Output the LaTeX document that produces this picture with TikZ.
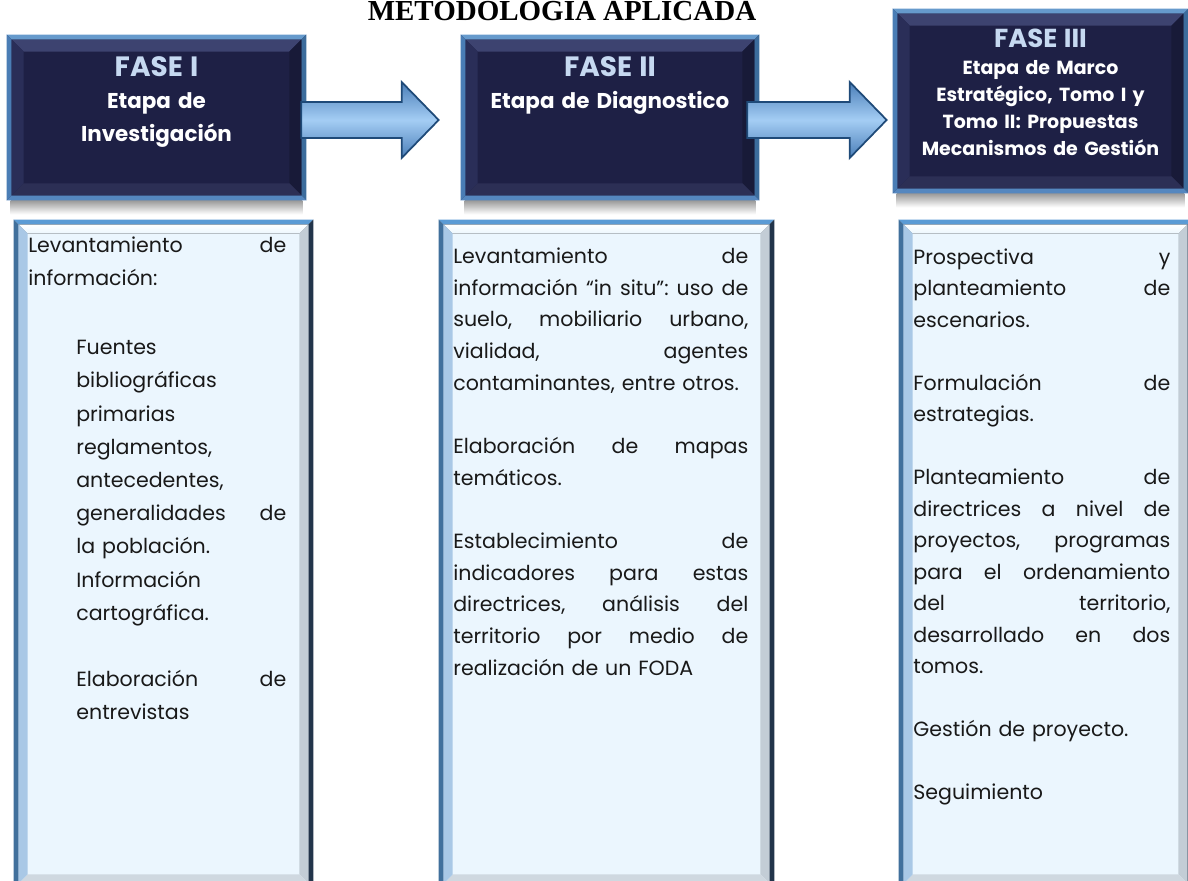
\documentclass[tikz,border=0pt]{standalone}
\usepackage{fontspec}
\setmainfont{Poppins}
\newfontfamily\titlefont{Liberation Serif}
\usepackage{tikz}
\usetikzlibrary{calc, positioning}

\definecolor{fasenavy}{HTML}{1E2045}
\definecolor{faseblue}{HTML}{C6D9F1}
\definecolor{detfill}{HTML}{EBF6FE}
\definecolor{arrowdark}{HTML}{4A7EB8}
\definecolor{arrowlight}{HTML}{A4CDF4}
\definecolor{arrowline}{HTML}{1F4A78}
% bevel colours of the phase boxes
\definecolor{fotop}{HTML}{669ACC}
\definecolor{foright}{HTML}{3C6C9C}
\definecolor{fobottom}{HTML}{5587BF}
\definecolor{foleft}{HTML}{4A7DB5}
\definecolor{fitop}{HTML}{3D4370}
\definecolor{firight}{HTML}{181A38}
\definecolor{fibottom}{HTML}{2C2F55}
\definecolor{fileft}{HTML}{2A2E58}
% bevel colours of the detail boxes
\definecolor{dotop}{HTML}{5B9BD5}
\definecolor{doright}{HTML}{22344A}
\definecolor{dobottom}{HTML}{8D99A5}
\definecolor{doleft}{HTML}{41709C}
\definecolor{diright}{HTML}{C3CDD6}
\definecolor{dibottom}{HTML}{CFD8E0}
\definecolor{dileft}{HTML}{A9C8E6}

\newdimen\px
\px=0.02cm

% bevel: node, inset, band, top, right, bottom, left
\newcommand\bevel[7]{%
  \coordinate (bnw) at ($(#1.north west)+(#2,#2)$);
  \coordinate (bne) at ($(#1.north east)+(-#2,#2)$);
  \coordinate (bse) at ($(#1.south east)+(-#2,-#2)$);
  \coordinate (bsw) at ($(#1.south west)+(#2,-#2)$);
  \fill[#4] (bnw) -- (bne) -- ($(bne)+(-#3,#3)$) -- ($(bnw)+(#3,#3)$) -- cycle;
  \fill[#5] (bne) -- (bse) -- ($(bse)+(-#3,-#3)$) -- ($(bne)+(-#3,#3)$) -- cycle;
  \fill[#6] (bse) -- (bsw) -- ($(bsw)+(#3,-#3)$) -- ($(bse)+(-#3,-#3)$) -- cycle;
  \fill[#7] (bsw) -- (bnw) -- ($(bnw)+(#3,#3)$) -- ($(bsw)+(#3,-#3)$) -- cycle;
}
\newcommand\blockarrow[2]{%
  \draw[phasearrow] ($(#1)+(0,-18)$) -- ($(#2)+(-37,-18)$) -- ($(#2)+(-37,-38)$)
    -- (#2) -- ($(#2)+(-37,38)$) -- ($(#2)+(-37,18)$) -- ($(#1)+(0,18)$) -- cycle;
}
\newcommand\ind{\hspace*{48\px}}

\newcommand\fasefont{\fontsize{15.9pt}{18pt}\selectfont\bfseries}
\newcommand\subfont{\fontsize{12.2pt}{18.49pt}\selectfont\bfseries}
\newcommand\fasefontc{\fontsize{14.8pt}{17pt}\selectfont\bfseries}
\newcommand\subfontc{\fontsize{10.8pt}{15.36pt}\selectfont\bfseries}

\tikzset{
  phasearrow/.style={draw=arrowline, line width=1pt, top color=arrowdark,
    bottom color=arrowdark, middle color=arrowlight},
  fasetext/.style={anchor=north, inner sep=0pt, align=center, text=white},
  dettext/.style={anchor=north west, inner sep=0pt, align=left, text=black!90}
}

\begin{document}
\begin{tikzpicture}[x=0.02cm, y=-0.02cm]
  \path[use as bounding box, fill=white] (0,0) rectangle (1188,881);

  \node[anchor=base, font={\titlefont\fontsize{16.5pt}{18pt}\selectfont\bfseries}] (titulo) at (562,21) {METODOLOGÍA APLICADA};

  \begin{scope}[every node/.style={rectangle, inner sep=0pt, fill=fasenavy}]
    \node[minimum width=299\px, minimum height=165\px] (fase1) at (156.5,117.5) {};
    \node[minimum width=298\px, minimum height=165\px] (fase2) at (610,117.5) {};
    \node[minimum width=295\px, minimum height=184\px] (fase3) at (1040.5,101) {};
  \end{scope}
  \begin{scope}[every node/.style={rectangle, inner sep=0pt, fill=detfill}]
    \node[minimum width=299\px, minimum height=668\px] (det1) at (163.5,554) {};
    \node[minimum width=335\px, minimum height=668\px] (det2) at (606.5,554) {};
    \node[minimum width=293\px, minimum height=668\px] (det3) at (1045.5,554) {};
  \end{scope}

  \foreach \f in {fase1,fase2,fase3}{
    \fill[top color=black!40, bottom color=white] ($(\f.south west)+(4,0)$) rectangle ($(\f.south east)+(-4,14)$);
    \bevel{\f}{0}{5}{fill=fotop}{fill=foright}{fill=fobottom}{fill=foleft}
    \bevel{\f}{5}{12}{fill=fitop}{fill=firight}{fill=fibottom}{fill=fileft}
  }
  \foreach \d in {det1,det2,det3}{
    \bevel{\d}{0}{5}{fill=dotop}{fill=doright}{fill=dobottom}{fill=doleft}
    \bevel{\d}{5}{9}{top color=white, bottom color=detfill}{fill=diright}{fill=dibottom}{fill=dileft}
  }

  \coordinate (a1s) at ($(fase1.east)+(-5,2.5)$);
  \coordinate (a1e) at ($(fase2.west)+(-22,2.5)$);
  \coordinate (a2s) at ($(fase2.east)+(-12,2.5)$);
  \coordinate (a2e) at ($(fase3.west |- a2s)+(-6,0)$);
  \blockarrow{a1s}{a1e}
  \blockarrow{a2s}{a2e}

  \node[fasetext, text width=299\px, font=\subfont] (tfase1) at (156.5,55)
    {{\fasefont\color{faseblue}\rule{0pt}{21\px}FASE I}\\Etapa de\\Investigación};
  \node[fasetext, text width=298\px, font=\subfont] (tfase2) at (610,55)
    {{\fasefont\color{faseblue}\rule{0pt}{21\px}FASE II}\\Etapa de Diagnostico};
  \node[fasetext, text width=295\px, font=\subfontc] (tfase3) at (1040.5,28)
    {{\fasefontc\color{faseblue}\rule{0pt}{19\px}FASE III}\\Etapa de Marco\\Estratégico, Tomo I y\\Tomo II: Propuestas\\Mecanismos de Gestión};

  \node[dettext, text width=258\px, font=\fontsize{11.7pt}{18.89pt}\selectfont] (tdet1) at (28,236) {%
    \rule{0pt}{16\px}Levantamiento\hfill de\\
    información:\\[20.5pt]
    \ind Fuentes\\
    \ind bibliográficas\\
    \ind primarias\\
    \ind reglamentos,\\
    \ind antecedentes,\\
    \ind generalidades\hfill de\\
    \ind la población.\\
    \ind Información\\
    \ind cartográfica.\\[18.89pt]
    \ind Elaboración\hfill de\\
    \ind entrevistas};
  \node[dettext, text width=295\px, font=\fontsize{11.7pt}{18.04pt}\selectfont] (tdet2) at (453,247) {%
    \rule{0pt}{16\px}Levantamiento\hfill de\\
    información\hfill “in\hfill situ”:\hfill uso\hfill de\\
    suelo,\hfill mobiliario\hfill urbano,\\
    vialidad,\hfill agentes\\
    contaminantes, entre otros.\\[18.04pt]
    Elaboración\hfill de\hfill mapas\\
    temáticos.\\[18.04pt]
    Establecimiento\hfill de\\
    indicadores\hfill para\hfill estas\\
    directrices,\hfill análisis\hfill del\\
    territorio\hfill por\hfill medio\hfill de\\
    realización de un FODA};
  \node[dettext, text width=257\px, font=\fontsize{11.7pt}{17.93pt}\selectfont] (tdet3) at (913,248) {%
    \rule{0pt}{16\px}Prospectiva\hfill y\\
    planteamiento\hfill de\\
    escenarios.\\[17.93pt]
    Formulación\hfill de\\
    estrategias.\\[17.93pt]
    Planteamiento\hfill de\\
    directrices\hfill a\hfill nivel\hfill de\\
    proyectos,\hfill programas\\
    para\hfill el\hfill ordenamiento\\
    del\hfill territorio,\\
    desarrollado\hfill en\hfill dos\\
    tomos.\\[17.93pt]
    Gestión de proyecto.\\[17.93pt]
    Seguimiento};
\end{tikzpicture}
\end{document}
